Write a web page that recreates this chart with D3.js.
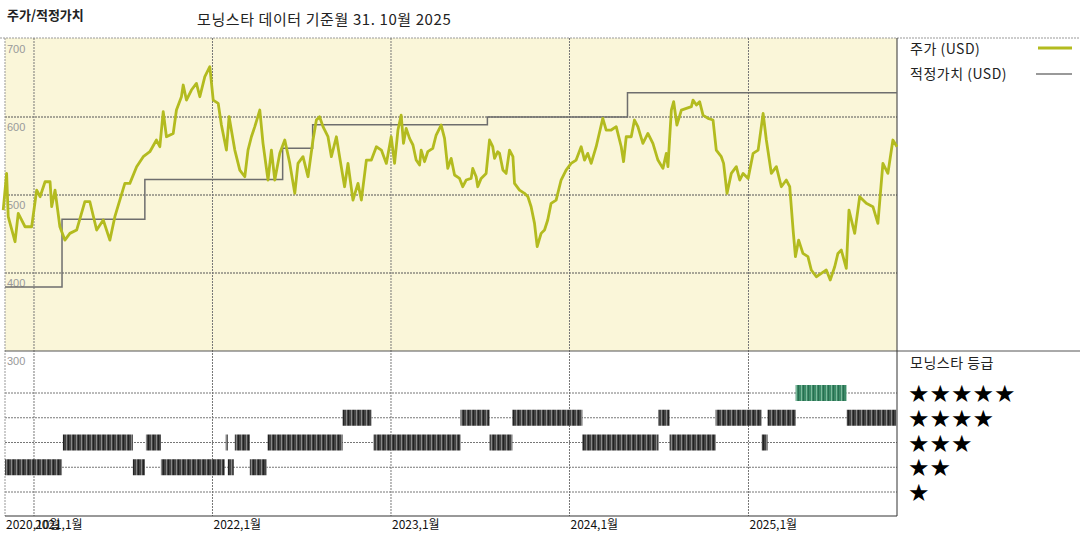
<html>
<head>
<script src="https://d3js.org/d3.v7.min.js"></script>
<style>
body{margin:0;background:#fff;font-family:"Noto Sans CJK KR","Noto Sans",sans-serif;}
</style>
</head>
<body>
<script>
// price: decimal year, USD
var priceT=[2020.828,2020.847,2020.856,2020.894,2020.912,2020.950,2020.987,2021.015,2021.034,2021.062,2021.090,2021.099,2021.118,2021.145,2021.173,2021.201,2021.239,2021.285,2021.313,2021.351,2021.388,2021.425,2021.453,2021.509,2021.537,2021.575,2021.612,2021.649,2021.686,2021.705,2021.724,2021.742,2021.780,2021.798,2021.826,2021.836,2021.854,2021.882,2021.910,2021.929,2021.957,2021.985,2022.004,2022.032,2022.050,2022.078,2022.093,2022.125,2022.153,2022.181,2022.199,2022.218,2022.237,2022.265,2022.283,2022.311,2022.330,2022.349,2022.377,2022.405,2022.433,2022.461,2022.479,2022.507,2022.535,2022.563,2022.582,2022.600,2022.619,2022.647,2022.666,2022.694,2022.712,2022.740,2022.759,2022.787,2022.815,2022.834,2022.862,2022.890,2022.918,2022.946,2022.974,2023.001,2023.020,2023.039,
2023.057,2023.070,2023.085,2023.104,2023.123,2023.141,2023.160,2023.169,2023.188,2023.206,2023.234,2023.253,2023.281,2023.300,2023.318,2023.337,2023.356,2023.384,2023.402,2023.421,2023.449,2023.458,2023.477,2023.486,2023.505,2023.533,2023.552,2023.570,2023.580,2023.598,
2023.608,2023.627,2023.645,2023.664,2023.683,2023.692,2023.720,2023.748,2023.767,2023.785,2023.804,2023.819,2023.841,2023.860,2023.878,2023.897,2023.925,2023.953,2023.981,2024.009,2024.037,2024.065,2024.084,2024.102,2024.121,2024.149,2024.186,2024.205,2024.233,2024.261,2024.289,2024.302,2024.317,2024.345,2024.363,2024.382,2024.410,2024.438,2024.466,2024.494,2024.522,2024.541,2024.550,2024.569,2024.582,2024.600,2024.625,2024.653,2024.681,2024.690,2024.709,2024.727,2024.746,2024.774,2024.802,2024.820,2024.848,2024.861,2024.880,2024.904,2024.932,2024.951,2024.970,2024.998,2025.026,2025.054,2025.082,2025.100,2025.128,2025.156,2025.184,2025.212,2025.231,2025.250,2025.263,2025.281,2025.305,2025.333,2025.352,2025.380,2025.408,2025.436,2025.458,2025.483,2025.501,2025.520,2025.548,2025.563,2025.595,2025.623,2025.660,2025.697,2025.725,2025.753,2025.781,2025.809,2025.832];
var priceV=[480.7,527.7,472.2,440.1,476.4,459.3,459.3,506.3,497.8,517.0,517.0,485.0,506.3,459.3,442.2,450.8,455.1,491.4,491.4,455.1,467.9,442.2,472.2,514.9,514.9,536.3,549.1,555.5,570.5,561.9,606.8,574.7,579.0,608.9,626.0,641.0,621.7,634.6,643.1,626.0,651.7,664.5,621.7,617.5,589.7,557.6,600.4,557.6,532.0,523.4,557.6,574.7,587.6,608.9,566.2,519.2,557.6,519.2,553.4,570.5,540.5,502.1,540.5,549.1,523.4,570.5,596.1,600.4,587.6,574.7,549.1,574.7,549.1,510.6,540.5,493.5,514.9,493.5,544.8,544.8,561.9,557.6,540.5,574.7,540.5,583.3,
602.5,566.2,585.4,572.6,564.1,544.8,538.4,557.6,542.7,555.5,559.8,576.9,589.7,572.6,534.1,547.0,525.6,521.3,510.6,519.2,521.3,534.1,523.4,510.6,521.3,527.7,570.5,561.9,547.0,555.5,
553.4,532.0,527.7,557.6,549.1,514.9,506.3,502.1,497.8,485.0,463.6,433.7,450.8,455.1,467.9,489.3,493.5,519.2,532.0,540.5,544.8,561.9,544.8,553.4,540.5,561.9,598.2,583.3,583.3,587.6,561.9,542.7,574.7,574.7,596.1,587.6,566.2,579.0,566.2,544.8,534.1,553.4,536.3,608.9,619.6,589.7,608.9,611.1,613.2,621.7,615.3,619.6,602.5,598.2,596.1,557.6,549.1,540.5,502.1,527.7,536.3,519.2,527.7,521.3,553.4,557.6,604.7,570.5,527.7,536.3,510.6,519.2,510.6,455.1,420.9,442.2,425.1,420.9,403.8,395.2,399.5,403.8,391.0,408.0,425.1,429.4,405.9,480.7,450.8,497.8,489.3,485.0,463.6,540.5,527.7,570.5,561.9];

// fair value steps
var fairT=[2020.838,2021.157,2021.621,2022.393,2022.561,2023.540,2024.324,2025.832];
var fairV=[382,469,520,560,590,600,631,631];

// morningstar rating periods
var ratStart=[2020.838,2021.162,2021.554,2021.627,2021.711,2022.074,2022.086,2022.125,2022.209,2022.309,2022.729,2022.903,2023.389,2023.552,2023.680,2024.072,2024.497,2024.559,2024.816,2025.074,2025.107,2025.264,2025.550];
var ratEnd  =[2021.157,2021.554,2021.621,2021.711,2022.068,2022.086,2022.119,2022.209,2022.304,2022.729,2022.891,2023.389,2023.552,2023.680,2024.072,2024.497,2024.559,2024.816,2025.074,2025.107,2025.264,2025.550,2025.832];
var ratStars=[2,3,2,3,2,3,2,3,2,3,4,3,4,3,4,3,4,3,4,3,4,5,4];

var yTicks=[300,400,500,600,700];
var xTicks=[2020.838,2021,2022,2023,2024,2025];
var xLabels=["2020,10월","2021,1월","2022,1월","2023,1월","2024,1월","2025,1월"];

function toDate(t){var y=Math.floor(t);var s=new Date(y,0,1),e=new Date(y+1,0,1);return new Date(+s+(t-y)*(e-s));}

var W=1080,H=540,L=5,R=897,T=38,M=351,B=516;
var svg=d3.select("body").append("svg").attr("width",W).attr("height",H);

var x=d3.scaleTime().domain([toDate(2020.838),toDate(2025.832)]).range([L,R]);
var y=d3.scaleLinear().domain([300,700]).range([M,T+1]);
var starY=d3.scalePoint().domain([5,4,3,2,1]).range([393,492]);

var defs=svg.append("defs");
var pat=defs.append("pattern").attr("id","stripe").attr("patternUnits","userSpaceOnUse").attr("width",5).attr("height",10);
pat.append("rect").attr("width",5).attr("height",10).attr("fill","#444");
pat.append("rect").attr("x",1).attr("width",1).attr("height",10).attr("fill","#888");
pat.append("rect").attr("x",3).attr("width",1).attr("height",10).attr("fill","#222");
var pat2=defs.append("pattern").attr("id","stripeG").attr("patternUnits","userSpaceOnUse").attr("width",5).attr("height",10);
pat2.append("rect").attr("width",5).attr("height",10).attr("fill","#3c8a68");
pat2.append("rect").attr("x",1).attr("width",1).attr("height",10).attr("fill","#7fb99c");
pat2.append("rect").attr("x",3).attr("width",1).attr("height",10).attr("fill","#2a6e50");

// background panels
svg.append("rect").attr("x",L).attr("y",T).attr("width",R-L).attr("height",M-T).attr("fill","#faf6d9");

// title
svg.append("text").attr("x",7).attr("y",20).attr("font-size",13).attr("font-weight","bold").attr("fill","#222").text("주가/적정가치");
svg.append("text").attr("x",197).attr("y",25).attr("font-size",15).attr("letter-spacing",0.6).attr("fill","#222").text("모닝스타 데이터 기준월 31. 10월 2025");

var dash="2,1";
// grids
svg.append("line").attr("x1",0).attr("x2",W).attr("y1",T).attr("y2",T).attr("stroke","#999").attr("stroke-dasharray",dash);
svg.selectAll(".hg").data([400,500,600]).enter().append("line")
  .attr("x1",L).attr("x2",R).attr("y1",d=>y(d)).attr("y2",d=>y(d)).attr("stroke","#555").attr("stroke-dasharray",dash);
svg.selectAll(".sg").data([5,4,3,2,1]).enter().append("line")
  .attr("x1",L).attr("x2",R).attr("y1",d=>starY(d)).attr("y2",d=>starY(d)).attr("stroke","#777").attr("stroke-dasharray",dash);
svg.selectAll(".vg").data(xTicks.slice(1)).enter().append("line")
  .attr("x1",d=>x(toDate(d))).attr("x2",d=>x(toDate(d))).attr("y1",T).attr("y2",B).attr("stroke","#777").attr("stroke-dasharray",dash);
svg.append("line").attr("x1",L).attr("x2",L).attr("y1",T).attr("y2",B).attr("stroke","#999").attr("stroke-dasharray",dash);
svg.append("line").attr("x1",L).attr("x2",W).attr("y1",M).attr("y2",M).attr("stroke","#555");
svg.append("line").attr("x1",R).attr("x2",R).attr("y1",T).attr("y2",B).attr("stroke","#333");
svg.append("line").attr("x1",L).attr("x2",R).attr("y1",B).attr("y2",B).attr("stroke","#333");

// y labels
svg.selectAll(".yl").data(yTicks).enter().append("text")
  .attr("x",7).attr("y",d=>y(d)+14).attr("font-size",11).attr("fill","#999").attr("font-family","Liberation Sans, sans-serif").text(d=>d);

// x labels
svg.selectAll(".xl").data(xTicks).enter().append("text")
  .attr("x",(d,i)=>x(toDate(d))+1).attr("y",529).attr("font-size",12).attr("fill","#111").text((d,i)=>xLabels[i]);

// fair value
var fair=fairT.map((t,i)=>({d:toDate(t),v:fairV[i]}));
svg.append("path").datum(fair).attr("fill","none").attr("stroke","#6e6e6e").attr("stroke-width",1.5)
  .attr("d",d3.line().curve(d3.curveStepAfter).x(d=>x(d.d)).y(d=>y(d.v)));

// price
var price=priceT.map((t,i)=>({d:toDate(t),v:priceV[i]}));
svg.append("path").datum(price).attr("fill","none").attr("stroke","#b3bb1f").attr("stroke-width",2.8).attr("stroke-linejoin","round")
  .attr("d",d3.line().x(d=>x(d.d)).y(d=>y(d.v)));

// ratings
var rat=ratStart.map((s,i)=>({s:toDate(s),e:toDate(ratEnd[i]),n:ratStars[i]}));
svg.selectAll(".rb").data(rat).enter().append("rect")
  .attr("x",d=>x(d.s)).attr("width",d=>Math.max(2,x(d.e)-x(d.s))).attr("y",d=>starY(d.n)-8).attr("height",16)
  .attr("fill",d=>d.n==5?"url(#stripeG)":"url(#stripe)");

// legend
svg.append("text").attr("x",910).attr("y",54).attr("font-size",14).attr("letter-spacing",0.5).attr("fill","#222").text("주가 (USD)");
svg.append("line").attr("x1",1038).attr("x2",1072).attr("y1",48).attr("y2",48).attr("stroke","#b3bb1f").attr("stroke-width",3);
svg.append("text").attr("x",910).attr("y",79).attr("font-size",14).attr("letter-spacing",0.5).attr("fill","#222").text("적정가치 (USD)");
svg.append("line").attr("x1",1036).attr("x2",1072).attr("y1",74).attr("y2",74).attr("stroke","#777").attr("stroke-width",1.5);
svg.append("text").attr("x",910).attr("y",368).attr("font-size",14).attr("letter-spacing",0.5).attr("fill","#222").text("모닝스타 등급");
svg.selectAll(".st").data([5,4,3,2,1]).enter().append("text")
  .attr("x",908).attr("y",d=>starY(d)+9).attr("font-size",24).attr("fill","#000").attr("font-family","DejaVu Sans")
  .text(d=>"★".repeat(d));
</script>
</body>
</html>
